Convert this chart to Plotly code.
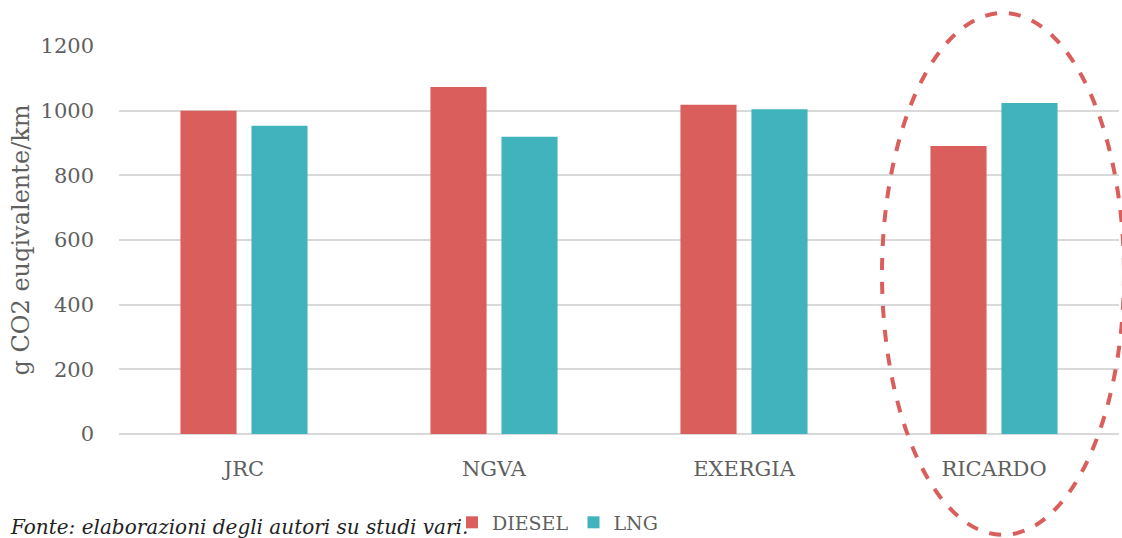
import plotly.graph_objects as go

categories = ["JRC", "NGVA", "EXERGIA", "RICARDO"]
diesel = [1000, 1073, 1018, 891]
lng = [953, 919, 1004, 1024]
y_ticks = [0, 200, 400, 600, 800, 1000, 1200]

RED = "#D95E5C"
TEAL = "#41B3BD"
FONT = "DejaVu Serif"
GREY = "#5F5F5F"

fig = go.Figure()
fig.add_trace(go.Bar(name="DIESEL", x=categories, y=diesel, marker=dict(color=RED, line=dict(width=0))))
fig.add_trace(go.Bar(name="LNG", x=categories, y=lng, marker=dict(color=TEAL, line=dict(width=0))))

fig.update_layout(
    width=1122, height=538,
    margin=dict(l=119, r=3, t=46, b=104, autoexpand=False),
    paper_bgcolor="white", plot_bgcolor="white",
    barmode="group", bargap=0.432, bargroupgap=0.21,
    font=dict(family=FONT, size=20, color=GREY),
    showlegend=True,
    legend=dict(orientation="h", x=0.333, y=-0.228, xanchor="left", yanchor="middle",
                font=dict(family=FONT, size=19, color=GREY), itemwidth=30,
                tracegroupgap=0, bgcolor="rgba(0,0,0,0)"),
    xaxis=dict(showgrid=False, showline=False, ticks="", tickfont=dict(size=21, color=GREY),
               ticklabelstandoff=20),
    yaxis=dict(range=[0, 1200], tickvals=y_ticks, showgrid=True, gridcolor="#D9D9D9", gridwidth=2,
               zeroline=True, zerolinecolor="#D9D9D9", zerolinewidth=2,
               ticks="", ticklabelstandoff=24, tickfont=dict(size=21, color=GREY),
               title=dict(text="g CO2 euqivalente/km", font=dict(size=24, color=GREY), standoff=4)),
)

fig.add_annotation(text="Fonte: elaborazioni degli autori su studi vari.", xref="paper", yref="paper",
                   x=0.351, y=-0.24, xanchor="right", yanchor="middle", showarrow=False,
                   font=dict(family=FONT, size=20, color="#222222", style="italic"))

fig.add_shape(type="circle", xref="paper", yref="paper", x0=0.763, x1=1.005, y0=-0.26, y1=1.085,
              line=dict(color=RED, width=4, dash="dash"), layer="above")

fig.write_html("out.html")
